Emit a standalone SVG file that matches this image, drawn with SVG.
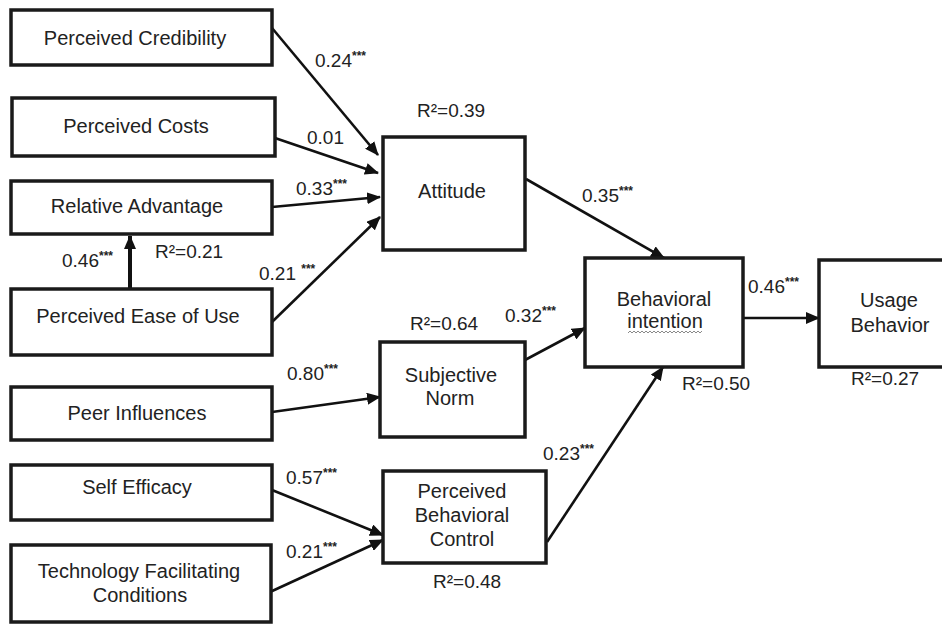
<svg xmlns="http://www.w3.org/2000/svg" width="942" height="624" viewBox="0 0 942 624">
<defs>
<style>
.box{fill:#fff;stroke:#1a1a1a;stroke-width:3.5}
.t{font-family:"Liberation Sans",Arial,sans-serif;font-size:20px;fill:#222;text-anchor:middle}
.l{font-family:"Liberation Sans",Arial,sans-serif;font-size:19px;fill:#222}
.st{font-size:12px;font-weight:bold}
.e{stroke:#111;stroke-width:2.6;fill:none;marker-end:url(#ah)}
.sq{fill:none;stroke:#8a8a8a;stroke-width:1}
</style>
<marker id="ah" markerUnits="userSpaceOnUse" markerWidth="14" markerHeight="12" refX="13" refY="6" orient="auto">
<path d="M0,0 L14,6 L0,12 z" fill="#111"/>
</marker>
</defs>
<rect width="942" height="624" fill="#fff"/>

<g id="connectors">
<path class="e" d="M272,28 L378,155"/>
<path class="e" d="M272,137 L378,173"/>
<path class="e" d="M272,207 L380,197"/>
<path class="e" d="M272,322 L380,217"/>
<path class="e" d="M130,289 L130,236" style="stroke-width:4"/>
<path class="e" d="M526,179 L664,258"/>
<path class="e" d="M525,360 L585,328"/>
<path class="e" d="M743,318 L819,318"/>
<path class="e" d="M547,542 L663,367"/>
<path class="e" d="M272,412 L380,397"/>
<path class="e" d="M272,490 L383,535"/>
<path class="e" d="M270,592 L383,540"/>
</g>

<g id="perceived-credibility"><rect class="box" x="11" y="10" width="261" height="55"/><text class="t" x="135" y="45">Perceived Credibility</text></g>
<g id="perceived-costs"><rect class="box" x="12" y="98" width="263" height="58"/><text class="t" x="136" y="133">Perceived Costs</text></g>
<g id="relative-advantage"><rect class="box" x="11" y="181" width="261" height="53"/><text class="t" x="137" y="213">Relative Advantage</text></g>
<g id="perceived-ease-of-use"><rect class="box" x="11" y="289" width="261" height="66"/><text class="t" x="138" y="323">Perceived Ease of Use</text></g>
<g id="peer-influences"><rect class="box" x="11" y="387" width="261" height="53"/><text class="t" x="137" y="420">Peer Influences</text></g>
<g id="self-efficacy"><rect class="box" x="11" y="465" width="261" height="55"/><text class="t" x="137" y="494">Self Efficacy</text></g>
<g id="technology-facilitating-conditions"><rect class="box" x="11" y="545" width="260" height="77"/><text class="t" x="139" y="578">Technology Facilitating</text><text class="t" x="140" y="602">Conditions</text></g>
<g id="attitude"><rect class="box" x="383" y="137" width="142" height="113"/><text class="t" x="452" y="198">Attitude</text></g>
<g id="subjective-norm"><rect class="box" x="380" y="342" width="145" height="95"/><text class="t" x="451" y="382">Subjective</text><text class="t" x="450" y="405">Norm</text></g>
<g id="perceived-behavioral-control"><rect class="box" x="383" y="471" width="163" height="92"/><text class="t" x="462" y="498">Perceived</text><text class="t" x="462" y="522">Behavioral</text><text class="t" x="462" y="546">Control</text></g>
<g id="behavioral-intention"><rect class="box" x="585" y="258" width="158" height="109"/><text class="t" x="664" y="306">Behavioral</text><text class="t" x="665" y="328">intention</text>
<polyline class="sq" points="628,333 630,331 632,333 634,331 636,333 638,331 640,333 642,331 644,333 646,331 648,333 650,331 652,333 654,331 656,333 658,331 660,333 662,331 664,333 666,331 668,333 670,331 672,333 674,331 676,333 678,331 680,333 682,331 684,333 686,331 688,333 690,331 692,333 694,331 696,333 698,331 700,333 702,331"/></g>
<g id="usage-behavior"><rect class="box" x="819" y="260" width="130" height="107"/><text class="t" x="889" y="307">Usage</text><text class="t" x="890" y="332">Behavior</text></g>

<g id="labels">
<text class="l" x="315" y="67">0.24<tspan class="st" dy="-7">***</tspan></text>
<text class="l" x="417" y="117">R²=0.39</text>
<text class="l" x="307" y="144">0.01</text>
<text class="l" x="296" y="195">0.33<tspan class="st" dy="-7">***</tspan></text>
<text class="l" x="155" y="258">R²=0.21</text>
<text class="l" x="62" y="267">0.46<tspan class="st" dy="-7">***</tspan></text>
<text class="l" x="259" y="280">0.21 <tspan class="st" dy="-7">***</tspan></text>
<text class="l" x="582" y="202">0.35<tspan class="st" dy="-7">***</tspan></text>
<text class="l" x="505" y="322">0.32<tspan class="st" dy="-7">***</tspan></text>
<text class="l" x="410" y="330">R²=0.64</text>
<text class="l" x="748" y="293">0.46<tspan class="st" dy="-7">***</tspan></text>
<text class="l" x="682" y="390">R²=0.50</text>
<text class="l" x="851" y="385">R²=0.27</text>
<text class="l" x="287" y="380">0.80<tspan class="st" dy="-7">***</tspan></text>
<text class="l" x="286" y="484">0.57<tspan class="st" dy="-7">***</tspan></text>
<text class="l" x="286" y="558">0.21<tspan class="st" dy="-7">***</tspan></text>
<text class="l" x="543" y="460">0.23<tspan class="st" dy="-7">***</tspan></text>
<text class="l" x="433" y="588">R²=0.48</text>
</g>
</svg>
